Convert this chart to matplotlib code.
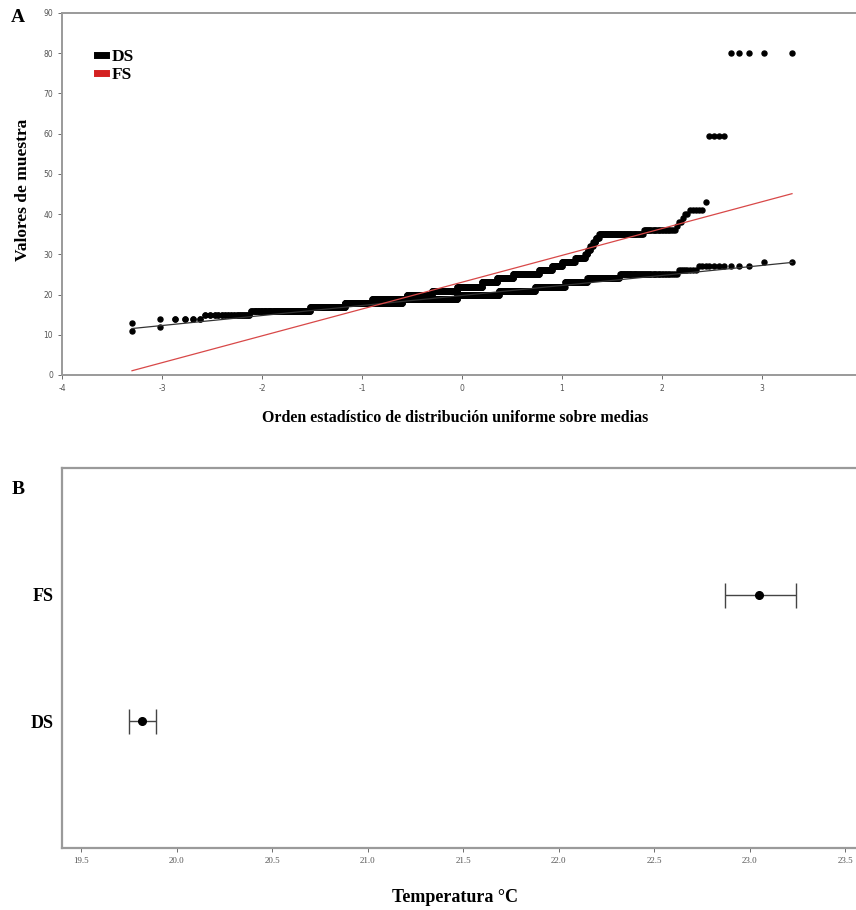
import numpy as np
import matplotlib
matplotlib.use("Agg")
import matplotlib.pyplot as plt
from matplotlib.lines import Line2D
from statistics import NormalDist

plt.rcParams["axes.unicode_minus"] = False

# ---------------- data ----------------
# Panel A: Q-Q plot, sorted sample values given as value / count
ds_values = [11, 12, 14, 15, 16, 17, 18, 19, 20, 21, 22, 23, 24, 25, 26, 27, 28]
ds_counts = [1, 1, 4, 16, 61, 73, 199, 266, 212, 159, 105, 60, 62, 54, 8, 10, 2]

fs_values = [13, 14, 15, 16, 17, 18, 19, 20, 21, 22, 23, 24, 25, 26, 27, 28, 29,
             30, 31, 32, 33, 34, 35, 36, 37, 38, 39, 40, 41, 43, 59.5, 80]
fs_counts = [1, 5, 16, 61, 73, 82, 138, 118, 127, 128, 75, 75, 109, 47, 33, 38, 26,
             6, 6, 6, 6, 7, 65, 24, 1, 2, 1, 2, 5, 1, 4, 5]

# reference lines (mean + sd * z)
ds_line_mean, ds_line_sd = 19.77, 2.49
fs_line_mean, fs_line_sd = 23.07, 6.67

# Panel B: mean temperature with error bars
groups = ["DS", "FS"]
temp_mean = [19.82, 23.05]
temp_low = [19.75, 22.87]
temp_high = [19.89, 23.24]

xticks_a = [-4, -3, -2, -1, 0, 1, 2, 3]
yticks_a = [0, 10, 20, 30, 40, 50, 60, 70, 80, 90]
xticks_b = [19.5, 20.0, 20.5, 21.0, 21.5, 22.0, 22.5, 23.0, 23.5]

# ---------------- figure ----------------
W, H = 856, 910
fig = plt.figure(figsize=(W / 100, H / 100), dpi=100)

serif = ["Liberation Serif", "DejaVu Serif"]
spine_col = "#9a9a9a"
red = "#d84848"


def frac(l, t, r, b):
    return [l / W, 1 - b / H, (r - l) / W, (b - t) / H]


def blom(n):
    nd = NormalDist()
    i = np.arange(1, n + 1)
    return np.array([nd.inv_cdf(p) for p in (i - 0.375) / (n + 0.25)])


# ---- Panel A ----
axA = fig.add_axes(frac(62, 13, 856, 375))
ds_sample = np.repeat(ds_values, ds_counts)
fs_sample = np.repeat(fs_values, fs_counts)
ds_z = blom(len(ds_sample))
fs_z = blom(len(fs_sample))

axA.plot(ds_z, ds_sample, "o", ms=3.6, color="black", mec="black", zorder=2)
axA.plot(fs_z, fs_sample, "o", ms=3.6, color="black", mec="black", zorder=2)

zl = np.array([ds_z.min(), ds_z.max()])
axA.plot(zl, ds_line_mean + ds_line_sd * zl, color="#333333", lw=0.9, zorder=3)
zl = np.array([fs_z.min(), fs_z.max()])
axA.plot(zl, fs_line_mean + fs_line_sd * zl, color=red, lw=0.9, zorder=3)

axA.set_xlim(-4, 3.94)
axA.set_ylim(0, 90)
axA.set_xticks(xticks_a)
axA.set_yticks(yticks_a)
axA.tick_params(labelsize=5.5, colors="#555555", length=3, width=0.6)
for s in ["left", "bottom", "top"]:
    axA.spines[s].set_color(spine_col)
    axA.spines[s].set_linewidth(1.4)
axA.spines["right"].set_visible(False)

handles = [Line2D([], [], color="black", lw=5), Line2D([], [], color="#d42020", lw=5)]
leg = axA.legend(handles, ["DS", "FS"], loc="upper left", bbox_to_anchor=(0.025, 0.945),
                 frameon=False, handlelength=0.5, handletextpad=0.3, labelspacing=0.15,
                 prop={"family": serif, "weight": "bold", "size": 12.5})

fig.text(23 / W, 1 - 190 / H, "Valores de muestra", rotation=90, ha="center", va="center",
         family=serif, weight="bold", fontsize=12.5)
fig.text(455 / W, 1 - 418 / H, "Orden estadístico de distribución uniforme sobre medias",
         ha="center", va="center", family=serif, weight="bold", fontsize=11.5)
fig.text(18 / W, 1 - 18 / H, "A", ha="center", va="center", family=serif, weight="bold",
         fontsize=14)

# ---- Panel B ----
axB = fig.add_axes(frac(62, 468, 856, 848))
ypos = [1, 2]
for yp, m, lo, hi in zip(ypos, temp_mean, temp_low, temp_high):
    axB.errorbar([m], [yp], xerr=[[m - lo], [hi - m]], fmt="o", ms=5.5, color="black",
                 ecolor="#444444", elinewidth=1.0, capsize=9, capthick=1.0)
axB.set_xlim(19.40, 23.555)
axB.set_ylim(0, 3)
axB.set_xticks(xticks_b)
axB.set_xticklabels([f"{v:.1f}" for v in xticks_b], family=serif, fontsize=6.5,
                    color="#333333")
axB.set_yticks(ypos)
axB.set_yticklabels(groups, family=serif, weight="bold", fontsize=13)
axB.tick_params(axis="y", length=0, pad=6)
axB.tick_params(axis="x", length=3, width=0.6, colors="#555555")
for s in ["left", "bottom", "top"]:
    axB.spines[s].set_color(spine_col)
    axB.spines[s].set_linewidth(1.6)
axB.spines["right"].set_visible(False)

fig.text(455 / W, 1 - 897 / H, "Temperatura °C", ha="center", va="center", family=serif,
         weight="bold", fontsize=13)
fig.text(18 / W, 1 - 490 / H, "B", ha="center", va="center", family=serif, weight="bold",
         fontsize=14)

fig.savefig("out.png", dpi=100)
